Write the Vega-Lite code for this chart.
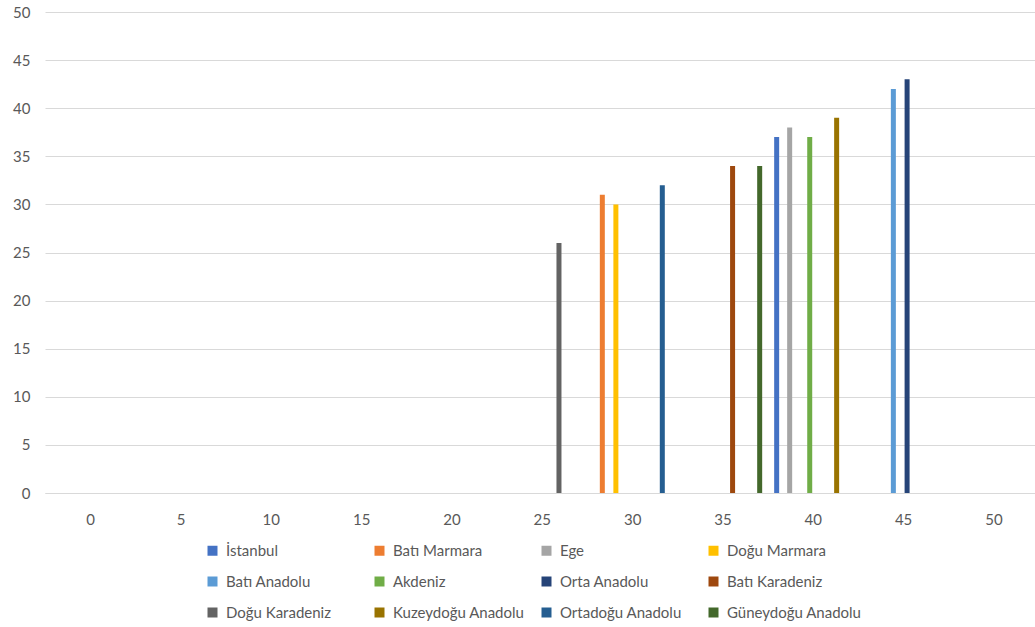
{
  "$schema": "https://vega.github.io/schema/vega-lite/v6.json",
  "width": 990,
  "height": 481,
  "autosize": {"type": "none"},
  "padding": {"left": 45, "top": 12, "right": 0, "bottom": 134},
  "background": "white",
  "config": {
    "view": {"stroke": null},
    "font": "Lato",
    "axis": {"labelFont": "Lato", "labelFontSize": 15, "labelColor": "#595959"},
    "legend": {"labelFont": "Lato", "labelFontSize": 15, "labelColor": "#595959"}
  },
  "data": {
    "values": [
      {"region": "İstanbul", "x": 38.0, "value": 37},
      {"region": "Batı Marmara", "x": 28.35, "value": 31},
      {"region": "Ege", "x": 38.72, "value": 38},
      {"region": "Doğu Marmara", "x": 29.1, "value": 30},
      {"region": "Batı Anadolu", "x": 44.46, "value": 42},
      {"region": "Akdeniz", "x": 39.83, "value": 37},
      {"region": "Orta Anadolu", "x": 45.22, "value": 43},
      {"region": "Batı Karadeniz", "x": 35.56, "value": 34},
      {"region": "Doğu Karadeniz", "x": 25.95, "value": 26},
      {"region": "Kuzeydoğu Anadolu", "x": 41.32, "value": 39},
      {"region": "Ortadoğu Anadolu", "x": 31.67, "value": 32},
      {"region": "Güneydoğu Anadolu", "x": 37.06, "value": 34}
    ]
  },
  "mark": {"type": "bar", "orient": "vertical", "size": 5},
  "encoding": {
    "x": {
      "field": "x", "type": "quantitative",
      "scale": {"domain": [-2.5, 52.3], "nice": false, "zero": false, "padding": 0},
      "axis": {"title": null, "values": [0,5,10,15,20,25,30,35,40,45,50], "grid": false, "ticks": false, "domain": true, "domainColor": "#D9D9D9", "labelPadding": 19, "labelFlush": false}
    },
    "y": {
      "field": "value", "type": "quantitative",
      "scale": {"domain": [0, 50], "nice": false},
      "axis": {"title": null, "values": [0,5,10,15,20,25,30,35,40,45,50], "grid": true, "gridColor": "#D9D9D9", "ticks": false, "domain": false, "labelPadding": 15}
    },
    "color": {
      "field": "region", "type": "nominal",
      "scale": {
        "domain": ["İstanbul","Batı Anadolu","Doğu Karadeniz","Batı Marmara","Akdeniz","Kuzeydoğu Anadolu","Ege","Orta Anadolu","Ortadoğu Anadolu","Doğu Marmara","Batı Karadeniz","Güneydoğu Anadolu"],
        "range": ["#4472C4","#5B9BD5","#636363","#ED7D31","#70AD47","#997300","#A5A5A5","#264478","#255E91","#FFC000","#9E480E","#43682B"]
      },
      "legend": {
        "title": null, "orient": "none", "legendX": 160, "legendY": 531,
        "columns": 4, "gridAlign": "all", "columnPadding": 11, "rowPadding": 15,
        "symbolType": "square", "symbolSize": 100, "symbolStrokeWidth": 0, "labelOffset": 6
      }
    }
  }
}
